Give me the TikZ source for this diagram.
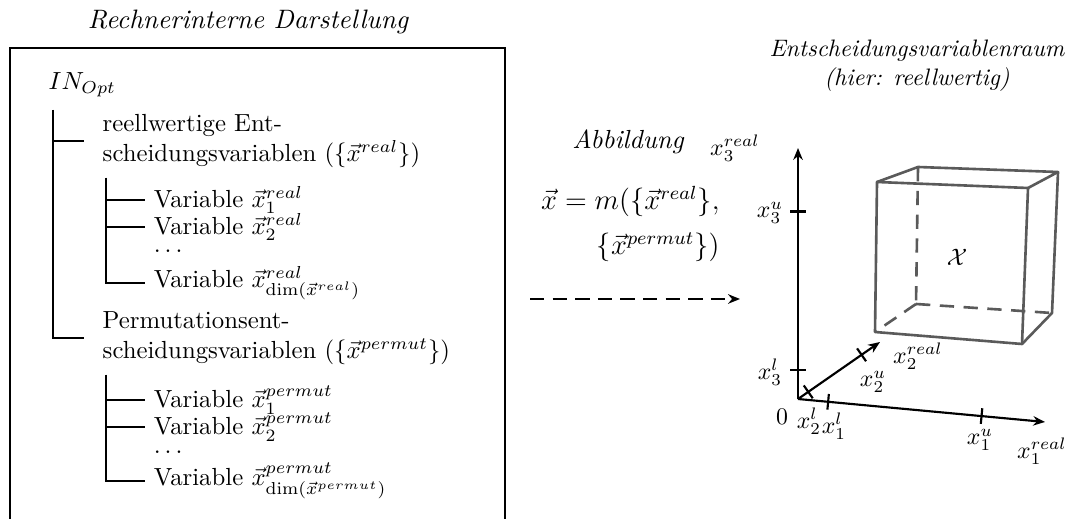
\documentclass[tikz,border=0pt]{standalone}
\usepackage{amsmath}
\usepackage{amssymb}
\usepackage{tikz}
\usetikzlibrary{arrows.meta, positioning, calc}
\definecolor{cgrau}{HTML}{5A5A5A}
\tikzset{
  titel/.style={font=\itshape, align=center},
  eintrag/.style={anchor=west, align=left, scale=1.04},
  zweig/.style={line width=0.85pt},
  achse/.style={line width=0.9pt, -{Stealth[length=5pt, width=4pt]}},
  strich/.style={line width=0.9pt},
  kante/.style={draw=cgrau, line width=1.1pt, line join=round},
  verdeckt/.style={kante, dash pattern=on 6pt off 4pt},
  pfeil/.style={line width=0.9pt, dash pattern=on 6pt off 3.5pt, -{Stealth[length=5pt, width=4pt]}},
}

\begin{document}
\begin{tikzpicture}[x=0.42pt, y=-0.42pt]
  \useasboundingbox (0,0) rectangle (1092,519);

  % linke Seite: Baum
  \node[titel, scale=1.12] (titelA) at (248,22) {Rechnerinterne Darstellung};
  \draw[zweig] (10,540) -- (10,48) -- (505,48) -- (505,540);

  \node[eintrag] (inopt) at (40,85) {$IN_{Opt}$};
  \node[eintrag] (reell) at (94,141) {reellwertige Ent-\\scheidungsvariablen ($\{\vec{x}^{real}\}$)};
  \node[eintrag] (rv1) at (145,200) {Variable $\vec{x}^{real}_1$};
  \node[eintrag] (rv2) at (145,227) {Variable $\vec{x}^{real}_2$};
  \node[eintrag] (rvp) at (145,251) {$\ldots$};
  \node[eintrag] (rvn) at (145,283) {Variable $\vec{x}^{real}_{\dim(\vec{x}^{real})}$};
  \node[eintrag] (perm) at (94,338) {Permutationsent-\\scheidungsvariablen ($\{\vec{x}^{permut}\}$)};
  \node[eintrag] (pv1) at (145,400) {Variable $\vec{x}^{permut}_1$};
  \node[eintrag] (pv2) at (145,427) {Variable $\vec{x}^{permut}_2$};
  \node[eintrag] (pvp) at (145,452) {$\ldots$};
  \node[eintrag] (pvn) at (145,481) {Variable $\vec{x}^{permut}_{\dim(\vec{x}^{permut})}$};

  \coordinate (stamm) at (53,110);
  \coordinate (astA) at (106,178);
  \coordinate (astB) at (106,375);
  \draw[zweig] (stamm) |- ([xshift=-4.4pt]reell.west);
  \draw[zweig] (stamm) |- ([xshift=-4.4pt]perm.west);
  \draw[zweig] (astA) |- (rv1.west);
  \draw[zweig] (astA) |- (rv2.west);
  \draw[zweig] (astA) |- (rvn.west);
  \draw[zweig] (astB) |- (pv1.west);
  \draw[zweig] (astB) |- (pv2.west);
  \draw[zweig] (astB) |- (pvn.west);

  % Mitte: Abbildung
  \node[font=\itshape, scale=1.1] (abb) at (628,142) {Abbildung};
  \node[align=right, anchor=east, font=\large] (formel) at (728,224)
    {$\vec{x}=m(\{\vec{x}^{real}\},$\\[5pt]$\{\vec{x}^{permut}\})$};
  \coordinate (abbA) at (530,299);
  \coordinate (abbB) at (740,299);
  \draw[pfeil] (abbA) -- (abbB);

  % rechte Seite: Entscheidungsvariablenraum
  \node[titel] (titelB) at (917,66) {Entscheidungsvariablenraum\\(hier: reellwertig)};
  \coordinate (O) at (798,399);
  \coordinate (xa) at (1045,422);
  \coordinate (xb) at (880,342);
  \coordinate (xc) at (798,148);
  \draw[achse] (O) -- (xa);
  \draw[achse] (O) -- (xb);
  \draw[achse] (O) -- (xc);

  \coordinate (ta1) at ($(O)!0.122!(xa)$);
  \coordinate (ta2) at ($(O)!0.743!(xa)$);
  \coordinate (tb1) at ($(O)!0.125!(xb)$);
  \coordinate (tb2) at ($(O)!0.775!(xb)$);
  \coordinate (tc1) at ($(O)!0.116!(xc)$);
  \coordinate (tc2) at ($(O)!0.747!(xc)$);
  \foreach \t/\e in {ta1/xa, ta2/xa, tb1/xb, tb2/xb, tc1/xc, tc2/xc}
    \draw[strich] ($(\t)!3.3pt!90:(\e)$) -- ($(\t)!3.3pt!-90:(\e)$);

  \node (lc) at (735,148) {$x_3^{real}$};
  \node (lcu) at (770,213) {$x_3^{u}$};
  \node (lcl) at (770,372) {$x_3^{l}$};
  \node (null) at (782,417) {$0$};
  \node (lbl) at (809,421) {$x_2^{l}$};
  \node (lal) at (834,426) {$x_1^{l}$};
  \node (lau) at (980,440) {$x_1^{u}$};
  \node (la) at (1042,451) {$x_1^{real}$};
  \node (lbu) at (873,382) {$x_2^{u}$};
  \node (lb) at (918,356) {$x_2^{real}$};

  % Quader
  \coordinate (v1) at (877,182);
  \coordinate (v2) at (1028,188);
  \coordinate (v3) at (1022,344);
  \coordinate (v4) at (875,332);
  \coordinate (h1) at (918,167);
  \coordinate (h2) at (1058,172);
  \coordinate (h3) at (1052,313);
  \coordinate (h4) at (916,304);
  \draw[kante] (v1) -- (v2) -- (v3) -- (v4) -- cycle;
  \draw[kante] (v1) -- (h1) -- (h2) -- (v2);
  \draw[kante] (h2) -- (h3) -- (v3);
  \draw[verdeckt] (h1) -- (h4);
  \draw[verdeckt] (h4) -- (h3);
  \draw[verdeckt] (h4) -- (v4);
  \node (menge) at (957,257) {$\mathcal{X}$};
\end{tikzpicture}
\end{document}
